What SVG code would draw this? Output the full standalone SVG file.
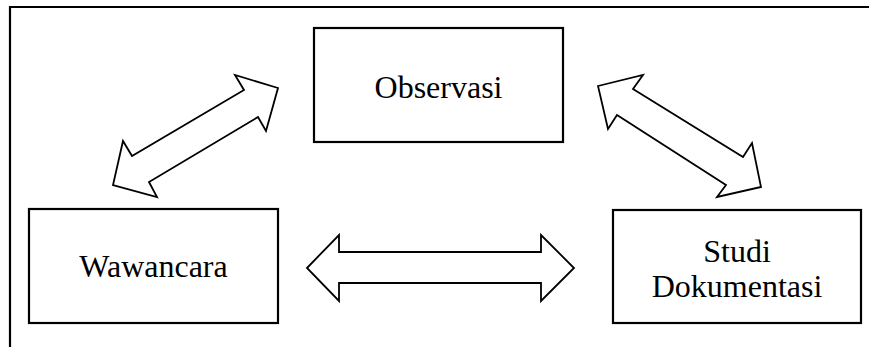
<svg xmlns="http://www.w3.org/2000/svg" width="869" height="347" viewBox="0 0 869 347">
<style>
.box{fill:#fff;stroke:#000;stroke-width:2.2}
.arr{fill:#fff;stroke:#000;stroke-width:1.8;stroke-linejoin:miter}
.frame{stroke:#000;stroke-width:2.2;fill:none}
text{font-family:"Liberation Serif","Times New Roman",serif;font-size:32px;fill:#000;text-anchor:middle}
</style>
<rect width="869" height="347" fill="#fff"/>
<g id="frame">
<path class="frame" d="M10 347 V7 H869"/>
</g>
<g id="connectors">
<polygon class="arr" points="278,88 235,75 244,90 132,156 123,141 113,185 157,197 149,182 258,117 266,131"/>
<polygon class="arr" points="598,86 643,75 633,89 743,157 752,143 761,187 717,197 726,185 617,115 608,129"/>
<polygon class="arr" points="307,268 339,235 339,252 541,252 541,235 574,268 541,301 541,283 339,283 339,301"/>
</g>
<g id="observasi">
<rect class="box" x="314" y="28" width="249" height="114"/>
<text x="438.5" y="98">Observasi</text>
</g>
<g id="wawancara">
<rect class="box" x="29" y="209" width="249" height="114"/>
<text x="153.5" y="277">Wawancara</text>
</g>
<g id="studi">
<rect class="box" x="613" y="210" width="248" height="113"/>
<text x="737" y="262">Studi</text>
<text x="737" y="297">Dokumentasi</text>
</g>
</svg>
